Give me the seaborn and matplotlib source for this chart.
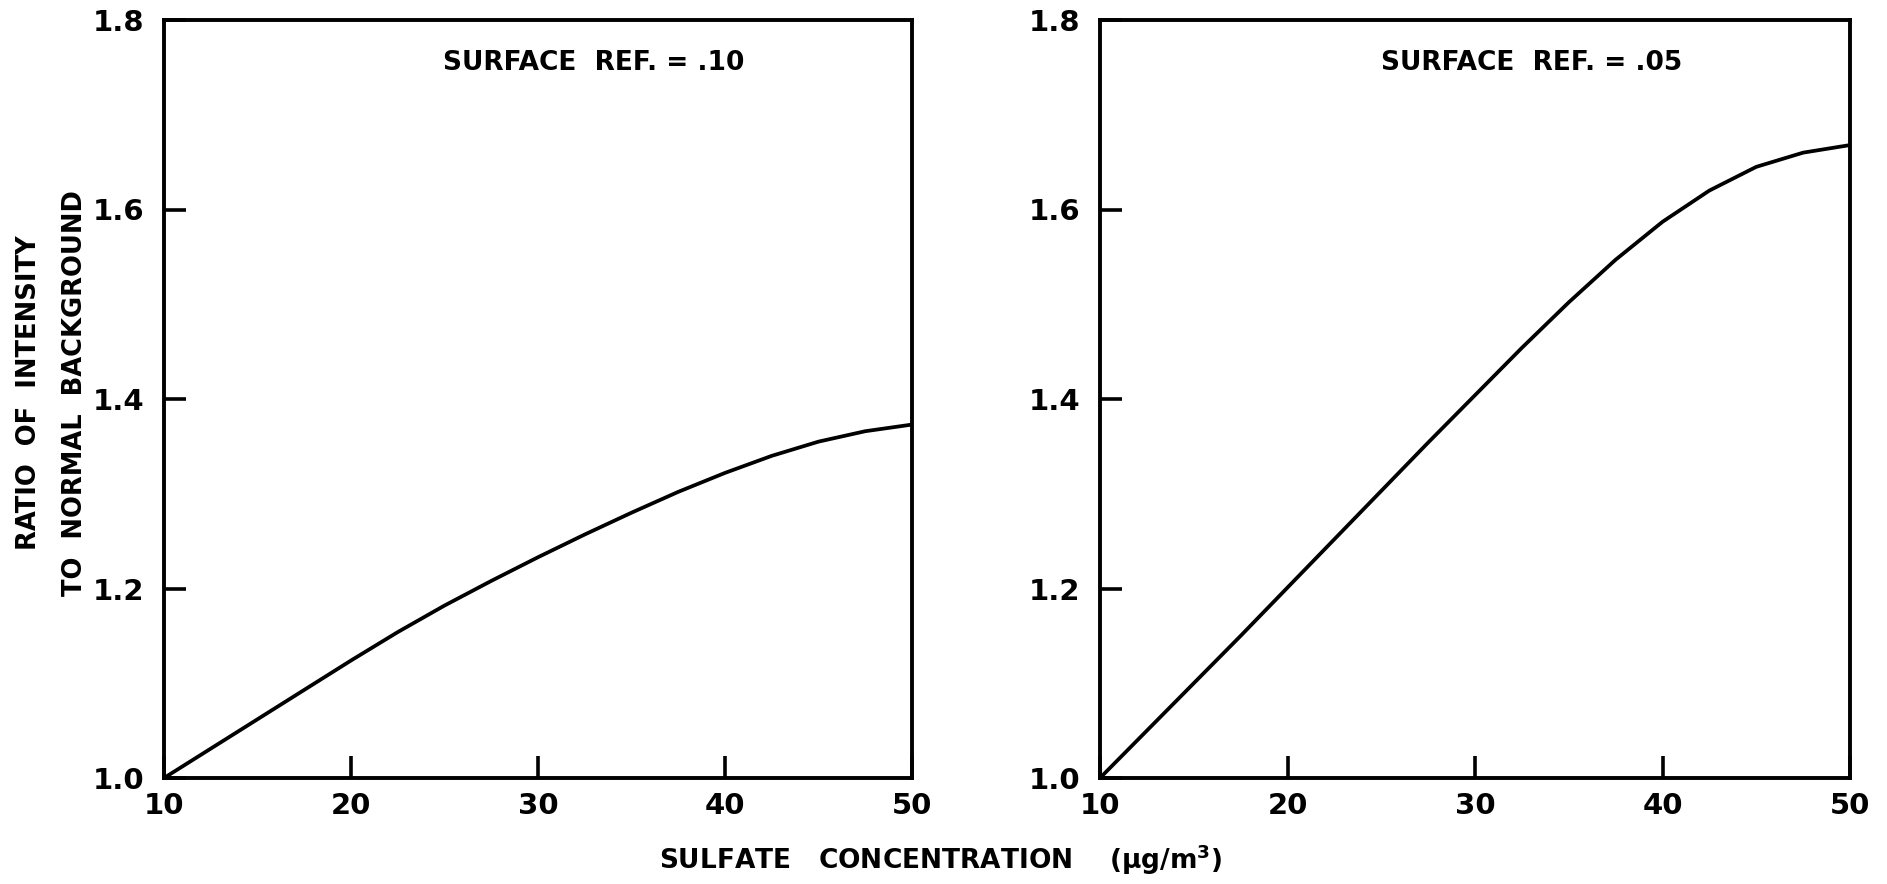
import matplotlib
matplotlib.use("Agg")
import matplotlib.pyplot as plt
import seaborn as sns
import pandas as pd

# ---- data ----
conc = [10, 12.5, 15, 17.5, 20, 22.5, 25, 27.5, 30, 32.5, 35, 37.5, 40, 42.5, 45, 47.5, 50]
ratio_ref10 = [1.000, 1.031, 1.062, 1.093, 1.124, 1.154, 1.182, 1.208, 1.233, 1.257,
               1.280, 1.302, 1.322, 1.340, 1.355, 1.366, 1.373]
ratio_ref05 = [1.000, 1.050, 1.100, 1.150, 1.201, 1.252, 1.303, 1.354, 1.404, 1.454,
               1.502, 1.547, 1.587, 1.620, 1.645, 1.660, 1.668]
panel_titles = ["SURFACE  REF. = .10", "SURFACE  REF. = .05"]
x_ticks = [10, 20, 30, 40, 50]
y_ticks = [1.0, 1.2, 1.4, 1.6, 1.8]
y_tick_labels = ["1.0", "1.2", "1.4", "1.6", "1.8"]
x_label = "SULFATE   CONCENTRATION    (\u03bcg/m$^{\\mathbf{3}}$)"
y_label = "RATIO  OF  INTENSITY\nTO  NORMAL  BACKGROUND"

sns.set_theme(style="ticks")
plt.rcParams["font.family"] = ["DejaVu Sans"]
plt.rcParams["font.weight"] = "bold"

W, H = 1887, 884
fig = plt.figure(figsize=(W / 100, H / 100), dpi=100)
fig.patch.set_facecolor("white")

boxes = [(164, 20, 912, 778), (1100, 20, 1850, 778)]
series = [ratio_ref10, ratio_ref05]

for (x0, y0, x1, y1), vals, title in zip(boxes, series, panel_titles):
    ax = fig.add_axes([x0 / W, 1 - y1 / H, (x1 - x0) / W, (y1 - y0) / H])
    df = pd.DataFrame({"conc": conc, "ratio": vals})
    sns.lineplot(data=df, x="conc", y="ratio", ax=ax, color="black", linewidth=2.7,
                 solid_joinstyle="round", solid_capstyle="round")
    ax.set_xlim(10, 50)
    ax.set_ylim(1.0, 1.8)
    ax.set_xticks(x_ticks)
    ax.set_xticklabels([str(t) for t in x_ticks])
    ax.set_yticks(y_ticks)
    ax.set_yticklabels(y_tick_labels)
    ax.tick_params(axis="x", direction="in", length=16, width=2.6, labelsize=21, pad=10, colors="black")
    ax.tick_params(axis="y", direction="in", length=16, width=2.6, labelsize=21, pad=14, colors="black")
    for lab in ax.get_xticklabels() + ax.get_yticklabels():
        lab.set_fontweight("bold")
    for sp in ax.spines.values():
        sp.set_visible(True)
        sp.set_linewidth(2.8)
        sp.set_color("black")
    ax.set_xlabel("")
    ax.set_ylabel("")
    ax.set_facecolor("white")
    ax.text(0.575, 0.943, title, transform=ax.transAxes, ha="center", va="center",
            fontsize=19, fontweight="bold", color="black")

fig.text(941 / W, 1 - 860 / H, x_label, ha="center", va="center", fontsize=19,
         fontweight="bold", color="black")
fig.text(52 / W, 1 - 393 / H, y_label, ha="center", va="center", rotation=90,
         fontsize=18.5, fontweight="bold", linespacing=2.0, color="black")

fig.savefig("out.png", dpi=100, facecolor="white")
